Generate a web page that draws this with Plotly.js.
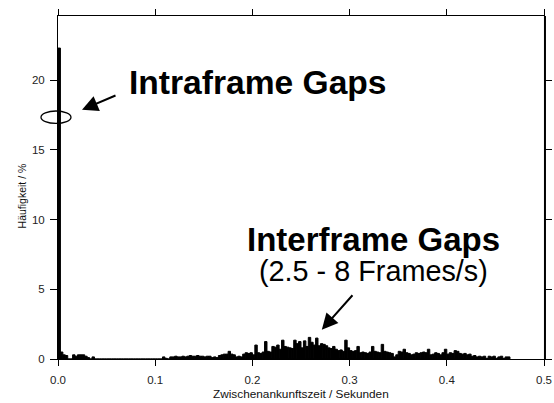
<!DOCTYPE html>
<html>
<head>
<meta charset="utf-8">
<script src="https://cdn.plot.ly/plotly-3.0.1.min.js"></script>
<style>html,body{margin:0;padding:0;background:#fff;}#chart{width:554px;height:403px;}</style>
</head>
<body>
<div id="chart"></div>
<script>
// Histogram of inter-arrival times, bin width 2.5 ms, starting at 0 s
const binWidthSec = 0.0025;
// Häufigkeit in % per bin (bin i covers [i*w, (i+1)*w))
const sharePercent = [
  22.3, 0.5, 0.3, 0.25, 0, 0, 0.3, 0.2, 0.3, 0.3,
  0.3, 0.2, 0.1, 0, 0.15, 0, 0, 0, 0, 0,
  0, 0, 0, 0, 0, 0, 0, 0, 0, 0,
  0, 0, 0, 0, 0, 0, 0, 0, 0, 0,
  0, 0, 0, 0.15, 0.05, 0, 0.15, 0.15, 0.2, 0.15,
  0.15, 0.2, 0.15, 0.2, 0.25, 0.2, 0.2, 0.25, 0.2, 0.2,
  0.15, 0.2, 0.2, 0.1, 0.15, 0.1, 0.25, 0.3, 0.35, 0.35,
  0.55, 0.35, 0.3, 0.15, 0.2, 0.15, 0.35, 0.45, 0.4, 0.45,
  0.3, 1.0, 0.45, 0.4, 0.5, 1.25, 0.55, 0.5, 0.9, 0.85,
  1.0, 0.7, 1.35, 0.9, 0.85, 0.8, 0.75, 1.35, 1.1, 1.25,
  0.8, 1.3, 0.9, 1.55, 1.2, 1.0, 1.5, 0.95, 1.1, 1.05,
  0.95, 0.8, 0.75, 0.9, 0.7, 0.6, 0.65, 0.55, 1.35, 0.8,
  0.6, 0.55, 0.6, 0.9, 0.45, 0.5, 0.45, 0.4, 0.5, 0.9,
  0.55, 0.5, 0.45, 1.05, 0.55, 0.5, 0.45, 0.4, 0.15, 0.3,
  0.55, 0.5, 0.7, 0.45, 0.4, 0.3, 0.35, 0.45, 0.4, 0.45,
  0.5, 0.45, 0.7, 0.3, 0.35, 0.45, 0.4, 0.3, 0.45, 0.7,
  0.35, 0.45, 0.4, 0.6, 0.55, 0.4, 0.35, 0.4, 0.3, 0.35,
  0.2, 0.25, 0.15, 0.2, 0.15, 0.2, 0.05, 0.2, 0.15, 0.2,
  0.05, 0.15, 0.2, 0.05, 0.15, 0.15
];
const xTickVals = [0, 0.1, 0.2, 0.3, 0.4, 0.5];
const xTickText = ['0.0', '0.1', '0.2', '0.3', '0.4', '0.5'];
const yTickVals = [0, 5, 10, 15, 20];
const xAxisTitle = 'Zwischenankunftszeit / Sekunden';
const yAxisTitle = 'Häufigkeit / %';
const labelIntra = '<b>Intraframe Gaps</b>';
const labelInter = '<b>Interframe Gaps</b>';
const labelRate = '(2.5 - 8 Frames/s)';

const binStarts = sharePercent.map((_, i) => i * binWidthSec);

const FONT = 'Liberation Sans, Arial, Helvetica, sans-serif';

const trace = {
  type: 'bar',
  x: binStarts,
  y: sharePercent,
  width: binWidthSec,
  offset: 0,
  marker: {color: '#000', line: {color: '#000', width: 1}},
  hoverinfo: 'skip'
};

const axisCommon = {
  showline: true, linecolor: '#000', linewidth: 1,
  mirror: 'ticks', ticks: 'outside', tickcolor: '#000', tickwidth: 1,
  showgrid: false, zeroline: false,
  tickfont: {family: FONT, size: 11.5, color: '#222'}
};

const layout = {
  width: 554, height: 403,
  margin: {l: 58, r: 10, t: 16, b: 44, pad: 0},
  paper_bgcolor: '#fff', plot_bgcolor: '#fff',
  showlegend: false,
  bargap: 0,
  xaxis: Object.assign({}, axisCommon, {
    range: [0, 0.5], tickvals: xTickVals, ticktext: xTickText,
    ticklen: 6, ticklabelstandoff: 4
  }),
  yaxis: Object.assign({}, axisCommon, {
    range: [0, 24.6], tickvals: yTickVals, ticklen: 7, ticklabelstandoff: 3
  }),
  shapes: [
    {type: 'line', xref: 'paper', yref: 'paper', x0: 1.002, x1: 1.002, y0: 0, y1: 1,
     line: {color: '#000', width: 2}},
    {type: 'circle', xref: 'paper', yref: 'paper', x0: -0.035, x1: 0.0267, y0: 0.687, y1: 0.723,
     line: {color: '#000', width: 1.3}, fillcolor: 'rgba(0,0,0,0)'}
  ],
  annotations: [
    {text: xAxisTitle, xref: 'paper', yref: 'paper', x: 0.5, y: -0.102, xanchor: 'center', yanchor: 'middle',
     showarrow: false, font: {family: FONT, size: 11.8, color: '#111'}},
    {text: yAxisTitle, xref: 'paper', yref: 'paper', x: -0.074, y: 0.474, xanchor: 'center', yanchor: 'middle',
     textangle: -90, showarrow: false, font: {family: FONT, size: 10.5, color: '#111'}},
    {text: labelIntra, xref: 'x', yref: 'y', x: 0.0714, y: 19.8, xanchor: 'left', yanchor: 'middle',
     showarrow: false, font: {family: FONT, size: 33.6, color: '#000'}},
    {text: labelInter, xref: 'x', yref: 'y', x: 0.1927, y: 8.55, xanchor: 'left', yanchor: 'middle',
     showarrow: false, font: {family: FONT, size: 33, color: '#000'}},
    {text: labelRate, xref: 'x', yref: 'y', x: 0.2047, y: 6.3, xanchor: 'left', yanchor: 'middle',
     showarrow: false, font: {family: FONT, size: 28.8, color: '#000'}},
    {text: '', xref: 'x', yref: 'y', x: 0.0247, y: 17.87, ax: 35, ay: -15,
     showarrow: true, arrowhead: 2, arrowsize: 1.6, arrowwidth: 2, arrowcolor: '#000'},
    {text: '', xref: 'x', yref: 'y', x: 0.2714, y: 2.1, ax: 32, ay: -36,
     showarrow: true, arrowhead: 2, arrowsize: 1.6, arrowwidth: 2, arrowcolor: '#000'}
  ]
};

Plotly.newPlot('chart', [trace], layout, {staticPlot: true, displayModeBar: false});
</script>
</body>
</html>
